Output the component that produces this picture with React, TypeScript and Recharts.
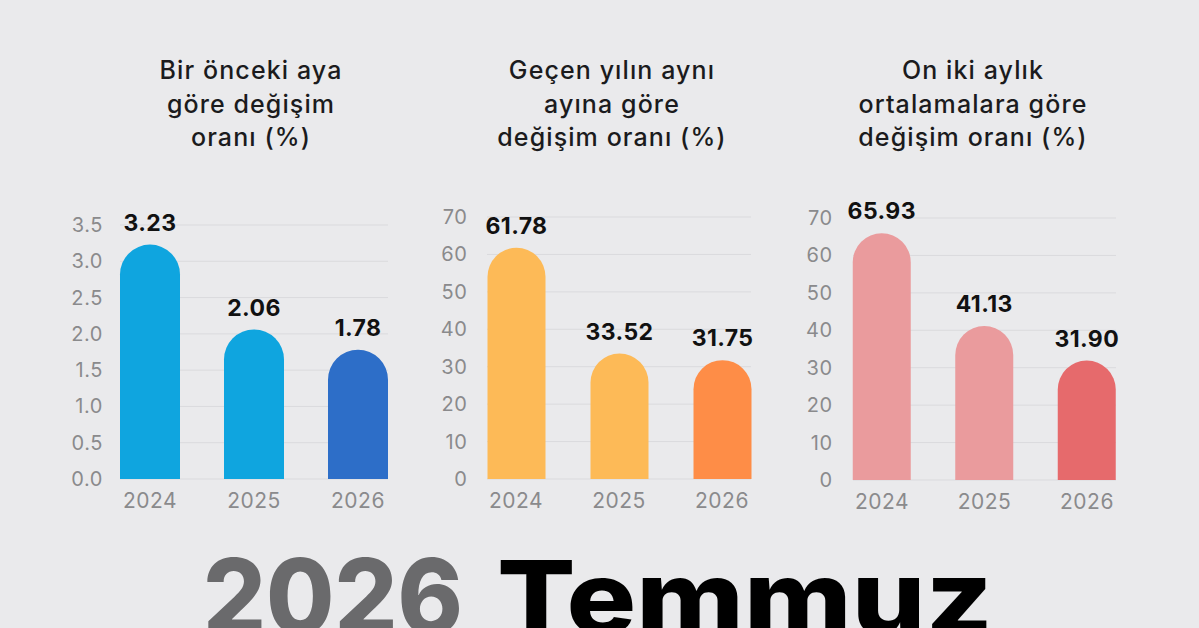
import React from 'react';
import { BarChart, Bar, XAxis, YAxis, CartesianGrid, Cell, LabelList } from 'recharts';

const years = ['2024', '2025', '2026'];
const monthlyChange = [3.23, 2.06, 1.78];
const annualChange = [61.78, 33.52, 31.75];
const averageChange = [65.93, 41.13, 31.9];

const monthlyTicks = [0, 0.5, 1, 1.5, 2, 2.5, 3, 3.5];
const annualTicks = [0, 10, 20, 30, 40, 50, 60, 70];
const averageTicks = [0, 10, 20, 30, 40, 50, 60, 70];

const monthlyColors = ['#0FA5DF', '#0FA5DF', '#2D6EC8'];
const annualColors = ['#FDBA57', '#FDBA57', '#FE8D47'];
const averageColors = ['#EA9B9D', '#EA9B9D', '#E66A6C'];

const monthlyTitle = ['Bir önceki aya', 'göre değişim', 'oranı (%)'];
const annualTitle = ['Geçen yılın aynı', 'ayına göre', 'değişim oranı (%)'];
const averageTitle = ['On iki aylık', 'ortalamalara göre', 'değişim oranı (%)'];

const headlineYear = '2026';
const headlineMonth = 'Temmuz';

const FONT = 'Inter, "Open Sans", sans-serif';

const XTick = (props: any) => {
  const { x, y, payload } = props;
  return (
    <text
      x={x}
      y={y + 21}
      textAnchor="middle"
      dominantBaseline="central"
      fill="#8a8a8c"
      fontSize={21}
      letterSpacing={0.5}
    >
      {payload.value}
    </text>
  );
};

const YTick = (props: any) => {
  const { x, y, payload, dxShift, decimals } = props;
  return (
    <text
      x={x + dxShift}
      y={y}
      textAnchor="end"
      dominantBaseline="central"
      fill="#8a8a8c"
      fontSize={20}
      letterSpacing={0.6}
    >
      {Number(payload.value).toFixed(decimals)}
    </text>
  );
};

type PanelProps = {
  values: number[];
  colors: string[];
  ticks: number[];
  decimals: number;
  left: number;
  top: number;
  margin: { top: number; right: number; bottom: number; left: number };
  barSize: number;
  gridX: number;
  gridW: number;
  dxShift: number;
};

function Panel(p: PanelProps) {
  const data = years.map((y, i) => ({ year: y, value: p.values[i] }));
  return (
    <div style={{ position: 'absolute', left: p.left, top: p.top }}>
      <BarChart width={380} height={350} data={data} margin={p.margin} barCategoryGap={0}>
        <CartesianGrid vertical={false} stroke="#dadadd" strokeWidth={1} x={p.gridX} width={p.gridW} />
        <XAxis
          dataKey="year"
          axisLine={false}
          tickLine={false}
          tickSize={0}
          tickMargin={0}
          height={30}
          interval={0}
          tick={<XTick />}
        />
        <YAxis
          type="number"
          domain={[0, p.ticks[p.ticks.length - 1]]}
          ticks={p.ticks}
          interval={0}
          axisLine={false}
          tickLine={false}
          tickSize={0}
          tickMargin={0}
          width={40}
          tick={<YTick dxShift={p.dxShift} decimals={p.decimals} />}
        />
        <Bar
          dataKey="value"
          barSize={p.barSize}
          radius={[p.barSize / 2, p.barSize / 2, 0, 0]}
          isAnimationActive={false}
        >
          {data.map((d, i) => (
            <Cell key={d.year} fill={p.colors[i]} />
          ))}
          <LabelList
            dataKey="value"
            position="top"
            offset={14}
            formatter={(v: any) => Number(v).toFixed(2)}
            fill="#111111"
            fontSize={23}
            fontWeight={700}
            letterSpacing={0.4}
          />
        </Bar>
      </BarChart>
    </div>
  );
}

function Title({ lines, center }: { lines: string[]; center: number }) {
  return (
    <div
      style={{
        position: 'absolute',
        left: center - 180,
        top: 54,
        width: 360,
        textAlign: 'center',
        fontSize: 25,
        letterSpacing: '1.1px',
        lineHeight: '33.5px',
        color: '#1b1b1d',
        fontWeight: 500,
      }}
    >
      {lines.map((l) => (
        <div key={l}>{l}</div>
      ))}
    </div>
  );
}

export default function App() {
  return (
    <div
      style={{
        position: 'absolute',
        left: 0,
        top: 0,
        width: 1199,
        height: 628,
        overflow: 'hidden',
        background: '#eaeaec',
        fontFamily: FONT,
      }}
    >
      <Title lines={monthlyTitle} center={251} />
      <Title lines={annualTitle} center={612} />
      <Title lines={averageTitle} center={973} />

      <Panel
        values={monthlyChange}
        colors={monthlyColors}
        ticks={monthlyTicks}
        decimals={1}
        left={50}
        top={180}
        margin={{ top: 45, right: 20, bottom: 21, left: 8 }}
        barSize={60}
        gridX={70}
        gridW={268}
        dxShift={5}
      />
      <Panel
        values={annualChange}
        colors={annualColors}
        ticks={annualTicks}
        decimals={0}
        left={415}
        top={180}
        margin={{ top: 37, right: 21.5, bottom: 21, left: 9.5 }}
        barSize={58}
        gridX={72}
        gridW={264}
        dxShift={3}
      />
      <Panel
        values={averageChange}
        colors={averageColors}
        ticks={averageTicks}
        decimals={0}
        left={780}
        top={180}
        margin={{ top: 38, right: 21.75, bottom: 20, left: 10.75 }}
        barSize={58}
        gridX={73}
        gridW={263}
        dxShift={2}
      />

      <svg width={1199} height={628} style={{ position: 'absolute', left: 0, top: 0, pointerEvents: 'none' }}>
        <text
          x={203}
          y={634}
          fontSize={104}
          fontWeight={800}
          fontFamily={FONT}
          fill="#6a6a6c"
          textLength={260}
          lengthAdjust="spacingAndGlyphs"
        >
          {headlineYear}
        </text>
        <text
          x={497}
          y={634}
          fontSize={102}
          fontWeight={800}
          fontFamily={FONT}
          fill="#000000"
          textLength={496}
          lengthAdjust="spacingAndGlyphs"
        >
          {headlineMonth}
        </text>
      </svg>
    </div>
  );
}
